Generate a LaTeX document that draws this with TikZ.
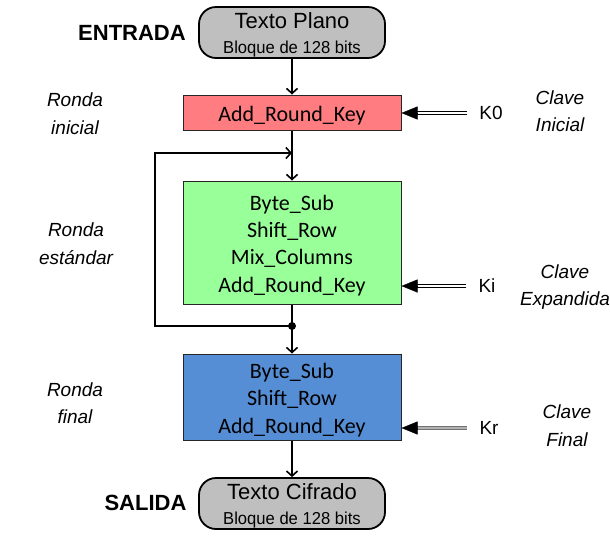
\documentclass[tikz,border=0pt]{standalone}
\usepackage{fontspec}
\setmainfont{Liberation Sans}
\newfontfamily\calfont{Carlito}
\newfontfamily\narrowfont[FakeStretch=0.96]{Liberation Sans}
\usetikzlibrary{arrows.meta}
\definecolor{redbox}{RGB}{255,124,128}
\definecolor{greenbox}{RGB}{153,255,153}
\definecolor{bluebox}{RGB}{85,142,213}
\definecolor{greybox}{RGB}{191,191,191}
\newcommand\tstrut{\rule{0pt}{21pt}}
\tikzset{
  procbox/.style={draw=black!85, line width=1pt, minimum width=218pt, inner sep=0pt,
    font=\calfont\fontsize{22}{27.3}\selectfont, align=center},
  textbox/.style={draw=black, line width=1.8pt, rounded corners=17pt, fill=greybox,
    minimum width=186pt, minimum height=51pt, inner sep=0pt, align=center,
    font=\fontsize{22}{24.5}\selectfont},
  flow/.style={line width=1.6pt, -{Straight Barb[length=5pt,width=11pt]}},
  keyline/.style={draw=black, line width=1.4pt, double=white, double distance=2pt, shorten <=12pt},
  greykeyline/.style={draw=black!55, line width=1.4pt, double=black!30, double distance=2pt, shorten <=12pt},
  keytip/.style={line width=0.4pt, -{Triangle[length=16pt,width=13pt]}},
  keyname/.style={font=\fontsize{19}{19}\selectfont, inner sep=0pt},
  stagelabel/.style={font=\itshape\fontsize{19}{27.5}\selectfont, align=center, inner sep=0pt},
  sidetitle/.style={font=\bfseries\fontsize{22}{22}\selectfont, inner sep=0pt}
}
\begin{document}
\begin{tikzpicture}[x=1pt,y=-1pt]
\useasboundingbox (0,0) rectangle (610,547);

% main boxes
\node[textbox] (plano) at (292,32.5)
  {\tstrut Texto Plano\\{\narrowfont\fontsize{17.3}{17}\selectfont Bloque de 128 bits}};
\node[procbox, fill=redbox, minimum height=35pt] (ark) at (292,112.5) {\tstrut Add\_Round\_Key};
\node[procbox, fill=greenbox, minimum height=123pt] (std) at (292,242.5)
  {\tstrut Byte\_Sub\\Shift\_Row\\Mix\_Columns\\Add\_Round\_Key};
\node[procbox, fill=bluebox, minimum height=86pt] (fin) at (292,397)
  {\tstrut Byte\_Sub\\Shift\_Row\\Add\_Round\_Key};
\node[textbox] (cifrado) at (292,503.5)
  {\tstrut Texto Cifrado\\{\narrowfont\fontsize{17.3}{17}\selectfont Bloque de 128 bits}};

% side titles
\node[sidetitle] (entrada) at (132,33) {ENTRADA};
\node[sidetitle] (salida) at (145.5,503) {SALIDA};

% stage labels
\node[stagelabel] (rinicial) at (75,113.5) {Ronda\\inicial};
\node[stagelabel] (restandar) at (76,243.5) {Ronda\\estándar};
\node[stagelabel] (rfinal) at (75,403) {Ronda\\final};
\node[stagelabel] (cinicial) at (560,111) {Clave\\Inicial};
\node[stagelabel] (cexp) at (565,287) {Clave\\Expandida};
\node[stagelabel] (cfinal) at (567,425.5) {Clave\\Final};

% key names
\node[keyname] (k0) at (491,113) {K0};
\node[keyname] (ki) at (487,286) {Ki};
\node[keyname] (kr) at (489,428) {Kr};

% flow
\coordinate (loopin) at (292,153);
\coordinate (split) at (292,326);
\coordinate (lowleft) at (155,326);
\coordinate (upleft) at (155,153);
\draw[flow] (plano) -- (ark);
\draw[flow] (ark) -- (std);
\draw[flow] (std) -- (fin);
\draw[flow] (fin) -- (cifrado);
\draw[flow] (split) -- (lowleft) -- (upleft) -- (loopin);
\fill (split) circle (4pt);

% keys
\coordinate (k0end) at (ark.east |- k0);
\coordinate (kiend) at (std.east |- ki);
\coordinate (krend) at (fin.east |- kr);
\draw[keyline] (k0.west) -- ([xshift=14pt]k0end);
\draw[keytip] ([xshift=15pt]k0end) -- (k0end);
\draw[keyline] (ki.west) -- ([xshift=14pt]kiend);
\draw[keytip] ([xshift=15pt]kiend) -- (kiend);
\draw[greykeyline] (kr.west) -- ([xshift=14pt]krend);
\draw[keytip] ([xshift=15pt]krend) -- (krend);
\end{tikzpicture}
\end{document}
